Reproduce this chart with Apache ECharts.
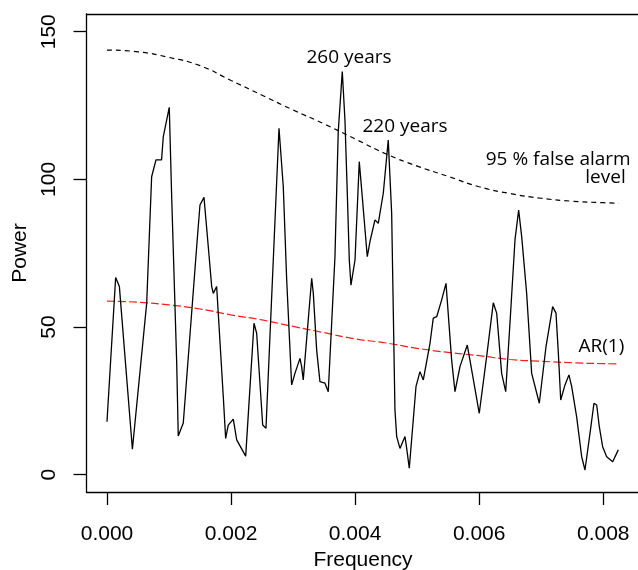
<!DOCTYPE html>
<html>
<head>
<meta charset="utf-8">
<script src="https://cdn.jsdelivr.net/npm/echarts@6/dist/echarts.min.js"></script>
<style>
  html, body { margin: 0; padding: 0; background: #fff; }
  #chart { width: 638px; height: 570px; }
</style>
</head>
<body>
<div id="chart"></div>
<script>
// periodogram (frequency in cycles/yr)
const freq = [
  0.00000, 0.00014, 0.00020, 0.00041, 0.00064, 0.00072, 0.00079, 0.00088, 0.000908, 0.001004,
  0.001043, 0.001124, 0.001149, 0.00123, 0.001446, 0.001499, 0.001564, 0.001633, 0.001688, 0.001714,
  0.001768, 0.001875, 0.001913, 0.001955, 0.002036, 0.002091, 0.002236, 0.00237, 0.002413, 0.00251,
  0.002563, 0.002773, 0.002842, 0.002897, 0.002977, 0.00303, 0.003111, 0.003138, 0.003164, 0.0033,
  0.003326, 0.00338, 0.003433, 0.003514, 0.003567, 0.003675, 0.003728, 0.003793, 0.003836, 0.003874,
  0.003906, 0.003933, 0.003998, 0.004067, 0.004106, 0.004196, 0.004239, 0.00432, 0.004373, 0.004454,
  0.004534, 0.004589, 0.004615, 0.004642, 0.00467, 0.004723, 0.004804, 0.004831, 0.004873, 0.004937,
  0.004981, 0.005045, 0.005099, 0.005207, 0.00526, 0.005315, 0.005395, 0.005465, 0.005556, 0.00561,
  0.00569, 0.005808, 0.005851, 0.006001, 0.00612, 0.006227, 0.006282, 0.006362, 0.006427, 0.006496,
  0.006577, 0.006636, 0.006685, 0.006765, 0.006846, 0.006969, 0.007077, 0.007184, 0.007238, 0.007276,
  0.007314, 0.007383, 0.007447, 0.007491, 0.007571, 0.007652, 0.007705, 0.007786, 0.00785, 0.007894,
  0.007936, 0.00799, 0.008055, 0.008152, 0.008242
];
const power = [
  17.9, 66.8, 63.7, 8.6, 58.0, 100.9, 106.6, 106.6, 114.5, 124.4,
  94.1, 37.8, 13.1, 17.5, 77.2, 91.3, 93.9, 77.2, 63.7, 61.4,
  63.7, 26.4, 12.3, 16.8, 18.8, 11.8, 6.3, 51.3, 47.9, 16.8,
  15.7, 117.3, 97.5, 65.9, 30.4, 34.3, 39.4, 36.6, 32.1, 66.5,
  61.4, 42.2, 31.5, 31.0, 28.1, 73.8, 116.2, 136.5, 120.1, 95.3,
  72.7, 64.2, 72.7, 106.0, 96.4, 73.8, 78.9, 86.3, 85.1, 95.3,
  113.3, 88.5, 55.8, 21.9, 12.9, 8.9, 12.9, 8.9, 2.2, 18.5,
  29.8, 34.9, 32.1, 44.5, 53.0, 53.5, 59.2, 64.8, 38.8, 28.1,
  36.6, 43.9, 38.8, 20.8, 40.0, 58.2, 54.7, 34.3, 28.1, 51.3,
  79.5, 89.6, 80.6, 61.4, 34.3, 24.2, 43.4, 56.9, 54.7, 41.1,
  25.3, 30.4, 33.8, 29.8, 19.6, 6.1, 1.6, 14.0, 24.2, 23.6,
  16.3, 9.5, 6.1, 4.4, 8.4
];

// smooth reference curves
const refFreq = [0, 0.0005, 0.001, 0.0015, 0.002, 0.0025, 0.003, 0.0035, 0.004,
  0.0045, 0.005, 0.0055, 0.006, 0.0065, 0.007, 0.0075, 0.008, 0.00825];
const falseAlarm95 = [143.8, 143.2, 141.3, 138.5, 133.5, 128.5, 123.5, 118.8, 113.7,
  108.6, 104.5, 101.0, 97.5, 95.2, 93.6, 92.6, 92.1, 91.9];
const ar1 = [58.8, 58.4, 57.5, 56.1, 54.1, 52.4, 50.2, 48.1, 46.0,
  44.6, 42.8, 41.4, 40.3, 39.0, 38.4, 37.9, 37.6, 37.5];

const xTicks = [0, 0.002, 0.004, 0.006, 0.008];
const yTicks = [0, 50, 100, 150];

const pairs = (xs, ys) => xs.map((x, i) => [x, ys[i]]);

const axisFont = "'Liberation Sans', Arial, sans-serif";
const noteFont = "'Open Sans', sans-serif";
const frame = { color: '#000', width: 1.3 };

const chart = echarts.init(document.getElementById('chart'), null, { renderer: 'canvas' });

chart.setOption({
  animation: false,
  backgroundColor: '#fff',
  grid: {
    left: 86.5,
    top: 14,
    width: 553,
    height: 478,
    outerBoundsMode: 'none'
  },
  xAxis: [
    {
      type: 'value',
      min: -0.00033,
      max: 0.008584,
      name: 'Frequency',
      nameLocation: 'middle',
      nameGap: 55,
      nameTextStyle: { fontFamily: axisFont, fontSize: 21, color: '#000' },
      axisLine: { show: true, onZero: false, lineStyle: frame },
      axisTick: { show: true, length: 13, customValues: xTicks, lineStyle: frame },
      axisLabel: {
        customValues: xTicks,
        margin: 32,
        fontFamily: axisFont,
        fontSize: 21,
        color: '#000',
        formatter: v => v.toFixed(3)
      },
      splitLine: { show: false }
    },
    {
      // top edge of the box
      type: 'value',
      position: 'top',
      min: -0.00033,
      max: 0.008584,
      axisLine: { show: true, onZero: false, lineStyle: frame },
      axisTick: { show: false },
      axisLabel: { show: false },
      splitLine: { show: false }
    }
  ],
  yAxis: {
    type: 'value',
    min: -5.86,
    max: 156.0,
    name: 'Power',
    nameLocation: 'middle',
    nameGap: 53,
    nameRotate: 90,
    nameTextStyle: { fontFamily: axisFont, fontSize: 21, color: '#000' },
    axisLine: { show: true, onZero: false, lineStyle: frame },
    axisTick: { show: true, length: 13, customValues: yTicks, lineStyle: frame },
    axisLabel: {
      customValues: yTicks,
      rotate: 90,
      margin: 27,
      fontFamily: axisFont,
      fontSize: 21,
      color: '#000'
    },
    splitLine: { show: false }
  },
  series: [
    {
      name: 'AR(1)',
      type: 'line',
      data: pairs(refFreq, ar1),
      smooth: true,
      showSymbol: false,
      lineStyle: { color: '#ff1a1a', width: 1.2, type: [8, 3] },
      z: 2
    },
    {
      name: '95 % false alarm level',
      type: 'line',
      data: pairs(refFreq, falseAlarm95),
      smooth: true,
      showSymbol: false,
      lineStyle: { color: '#000', width: 1.2, type: [5, 4] },
      z: 2
    },
    {
      name: 'Power',
      type: 'line',
      data: pairs(freq, power),
      showSymbol: false,
      lineStyle: { color: '#000', width: 1.3 },
      z: 3
    }
  ],
  graphic: [
    { type: 'text', x: 349, y: 57.3, style: { text: '260 years', font: '19px ' + noteFont, fill: '#000', align: 'center', verticalAlign: 'middle' } },
    { type: 'text', x: 405, y: 127, style: { text: '220 years', font: '19px ' + noteFont, fill: '#000', align: 'center', verticalAlign: 'middle' } },
    { type: 'text', x: 630.7, y: 159.7, style: { text: '95 % false alarm', font: '19px ' + noteFont, fill: '#000', align: 'right', verticalAlign: 'middle' } },
    { type: 'text', x: 625.7, y: 177.5, style: { text: 'level', font: '19px ' + noteFont, fill: '#000', align: 'right', verticalAlign: 'middle' } },
    { type: 'text', x: 624.3, y: 346.4, style: { text: 'AR(1)', font: '19px ' + noteFont, fill: '#000', align: 'right', verticalAlign: 'middle' } }
  ]
});
</script>
</body>
</html>
